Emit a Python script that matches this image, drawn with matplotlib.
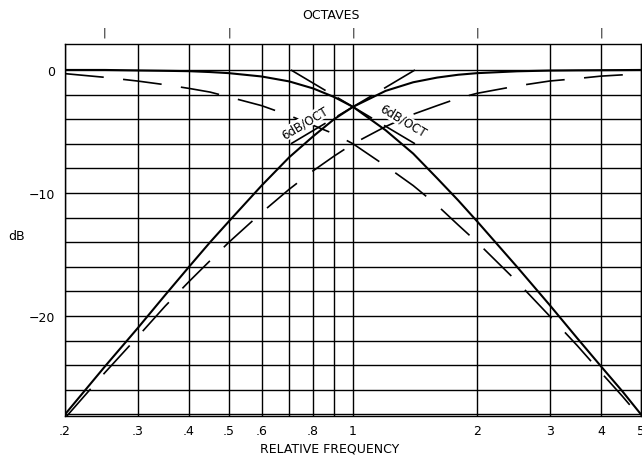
import matplotlib
matplotlib.use("Agg")
import matplotlib.pyplot as plt

plt.rcParams['font.family'] = ['DejaVu Sans']
plt.rcParams['lines.scale_dashes'] = False

# relative frequency points the curves were read at
freq = [0.2, 0.25, 0.3, 0.35, 0.4, 0.45, 0.5, 0.6, 0.7, 0.8, 0.9, 1.0,
        1.2, 1.4, 1.6, 1.8, 2.0, 2.5, 3.0, 3.5, 4.0, 4.5, 5.0]

# solid pair
low_solid = [0.0, 0.0, -0.04, -0.07, -0.1, -0.17, -0.26, -0.53, -0.93, -1.5, -2.2, -3.0,
             -4.9, -6.8, -8.8, -10.6, -12.3, -16.0, -19.1, -21.8, -24.1, -26.1, -28.0]
high_solid = [-28.0, -24.1, -21.0, -18.3, -16.0, -14.0, -12.3, -9.4, -7.1, -5.4, -4.0, -3.0,
              -1.7, -1.0, -0.62, -0.39, -0.26, -0.11, -0.05, -0.03, -0.02, -0.01, 0.0]

# dashed pair
low_dash = [-0.3, -0.6, -0.9, -1.2, -1.5, -1.8, -2.2, -2.9, -3.7, -4.5, -5.2, -6.0,
            -7.8, -9.4, -11.0, -12.6, -14.0, -17.2, -20.0, -22.4, -24.6, -26.5, -28.3]
high_dash = [-28.3, -24.6, -21.7, -19.2, -17.2, -15.5, -14.0, -11.6, -9.7, -8.2, -7.0, -6.0,
             -4.6, -3.6, -2.9, -2.3, -1.9, -1.3, -0.9, -0.7, -0.5, -0.4, -0.3]

# 6 dB/oct lines through the crossover point
fall_f = [0.707, 1.414]
fall_db = [0.0, -6.0]
rise_f = [0.707, 1.414]
rise_db = [-6.0, 0.0]

grid_f = [0.2, 0.3, 0.4, 0.5, 0.6, 0.7, 0.8, 0.9, 1, 2, 3, 4, 5]
grid_f_labels = ['.2', '.3', '.4', '.5', '.6', '', '.8', '', '1', '2', '3', '4', '5']
grid_db = list(range(-28, 1, 2))
grid_db_labels = ['−20' if v == -20 else '−10' if v == -10 else '0' if v == 0 else ''
                  for v in grid_db]
octave_f = [0.25, 0.5, 1, 2, 4]

fig = plt.figure(figsize=(6.42, 4.56), dpi=100)
ax = fig.add_axes([65 / 642, 1 - 417 / 456, 576 / 642, 372 / 456])

ax.set_xscale('log')
ax.set_xlim(0.2, 5)
ax.set_ylim(-28.13, 2.11)

for f in grid_f:
    ax.axvline(f, color='black', lw=1.0, zorder=1)
for d in grid_db:
    ax.axhline(d, color='black', lw=1.0, zorder=1)

ax.plot(freq, low_solid, color='black', lw=1.5, zorder=3)
ax.plot(freq, high_solid, color='black', lw=1.5, zorder=3)
dash = (0, (28, 14))
ax.plot(freq, low_dash, color='black', lw=1.2, linestyle=dash, zorder=3)
ax.plot(freq, high_dash, color='black', lw=1.2, linestyle=dash, zorder=3)
ax.plot(fall_f, fall_db, color='black', lw=1.2, linestyle=(0, (29, 10)), zorder=3)
ax.plot(rise_f, rise_db, color='black', lw=1.2, linestyle=(0, (29, 10)), zorder=3)

ax.text(0.762, -4.3, '6dB/OCT', rotation=31, ha='center', va='center', fontsize=8.5,
        rotation_mode='anchor', zorder=4,
        bbox=dict(facecolor='white', edgecolor='none', pad=0.2))
ax.text(1.32, -4.1, '6dB/OCT', rotation=-31, ha='center', va='center', fontsize=8.5,
        rotation_mode='anchor', zorder=4,
        bbox=dict(facecolor='white', edgecolor='none', pad=0.2))

ax.set_xticks(grid_f)
ax.set_xticklabels(grid_f_labels)
ax.xaxis.set_minor_locator(matplotlib.ticker.NullLocator())
ax.set_yticks(grid_db)
ax.set_yticklabels(grid_db_labels)
ax.tick_params(length=0, labelsize=9, pad=7)
ax.tick_params(axis='x', pad=6)

ax.set_xlabel('RELATIVE FREQUENCY', fontsize=9, va='center')
ax.xaxis.set_label_coords((330 - 65) / 576, (417 - 449) / 372)
ax.set_ylabel('dB', fontsize=9, rotation=0, va='center', ha='center')
ax.yaxis.set_label_coords((17 - 65) / 576, (417 - 237) / 372)

for f in octave_f:
    ax.text(f, 1.032, '|', transform=ax.get_xaxis_transform(), ha='center', va='center',
            fontsize=8)
ax.text((331 - 65) / 576, (417 - 15) / 372, 'OCTAVES', transform=ax.transAxes,
        ha='center', va='center', fontsize=9)

for s in ax.spines.values():
    s.set_linewidth(1.0)

fig.savefig('out.png', dpi=100)
